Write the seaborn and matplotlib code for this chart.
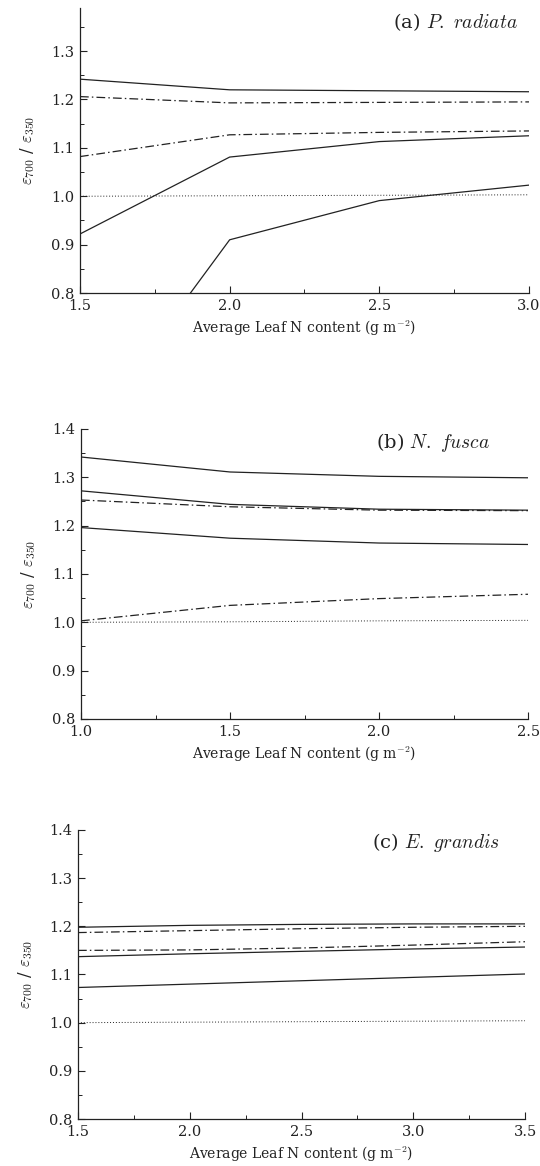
import matplotlib
matplotlib.use("Agg")
import matplotlib.pyplot as plt
import numpy as np
import pandas as pd
import seaborn as sns
from matplotlib.ticker import MultipleLocator

# Panel (a) P. radiata
x_a = [1.5, 2.0, 2.5, 3.0]
a_solid1 = [1.242, 1.220, 1.218, 1.216]
a_dash1 = [1.206, 1.193, 1.194, 1.195]
a_dash2 = [1.082, 1.127, 1.132, 1.135]
a_solid2 = [0.922, 1.081, 1.113, 1.125]
a_solid3 = [0.49, 0.910, 0.991, 1.023]
a_ref = [1.000, 1.001, 1.002, 1.003]

# Panel (b) N. fusca
x_b = [1.0, 1.5, 2.0, 2.5]
b_solid1 = [1.342, 1.311, 1.302, 1.299]
b_solid2 = [1.272, 1.244, 1.234, 1.232]
b_dash1 = [1.253, 1.239, 1.232, 1.231]
b_solid3 = [1.196, 1.174, 1.164, 1.161]
b_dash2 = [1.003, 1.035, 1.049, 1.058]
b_ref = [1.000, 1.001, 1.003, 1.004]

# Panel (c) E. grandis
x_c = [1.5, 2.0, 2.5, 3.0, 3.5]
c_solid1 = [1.198, 1.202, 1.204, 1.205, 1.205]
c_dash1 = [1.187, 1.191, 1.195, 1.198, 1.200]
c_dash2 = [1.150, 1.151, 1.155, 1.161, 1.168]
c_solid2 = [1.137, 1.143, 1.148, 1.153, 1.157]
c_solid3 = [1.073, 1.080, 1.087, 1.094, 1.101]
c_ref = [1.000, 1.001, 1.002, 1.003, 1.004]

SOLID = ""
DASHDOT = (7, 2.5, 1.2, 2.5)
DOTTED = (1, 2)

sns.set_theme(style="ticks")
plt.rcParams["font.family"] = ["DejaVu Serif"]
plt.rcParams["mathtext.fontset"] = "cm"
plt.rcParams["xtick.direction"] = "in"
plt.rcParams["ytick.direction"] = "in"

panels = [
    {
        "rect": [0.1481, 0.7487, 0.8315, 0.2444],
        "x": x_a,
        "series": [(a_solid1, SOLID), (a_dash1, DASHDOT), (a_dash2, DASHDOT),
                   (a_solid2, SOLID), (a_solid3, SOLID), (a_ref, DOTTED)],
        "xlim": (1.5, 3.0), "ylim": (0.8, 1.389),
        "xticks": [1.5, 2.0, 2.5, 3.0],
        "title": ("(a) ", "P. radiata"), "tpos": (0.976, 0.95),
    },
    {
        "rect": [0.150, 0.3834, 0.828, 0.2487],
        "x": x_b,
        "series": [(b_solid1, SOLID), (b_solid2, SOLID), (b_dash1, DASHDOT),
                   (b_solid3, SOLID), (b_dash2, DASHDOT), (b_ref, DOTTED)],
        "xlim": (1.0, 2.5), "ylim": (0.8, 1.4),
        "xticks": [1.0, 1.5, 2.0, 2.5],
        "title": ("(b) ", "N. fusca"), "tpos": (0.915, 0.952),
    },
    {
        "rect": [0.1444, 0.0403, 0.828, 0.2479],
        "x": x_c,
        "series": [(c_solid1, SOLID), (c_dash1, DASHDOT), (c_dash2, DASHDOT),
                   (c_solid2, SOLID), (c_solid3, SOLID), (c_ref, DOTTED)],
        "xlim": (1.5, 3.5), "ylim": (0.8, 1.4),
        "xticks": [1.5, 2.0, 2.5, 3.0, 3.5],
        "title": ("(c) ", "E. grandis"), "tpos": (0.944, 0.955),
    },
]

fig = plt.figure(figsize=(5.4, 11.66), dpi=100)

for p in panels:
    ax = fig.add_axes(p["rect"])
    for vals, dash in p["series"]:
        df = pd.DataFrame({"x": p["x"], "y": vals})
        lw = 0.7 if dash == DOTTED else 0.9
        line_kws = {} if dash == SOLID else {"dashes": dash}
        sns.lineplot(data=df, x="x", y="y", ax=ax, color="#222222",
                     linewidth=lw, **line_kws)
    ax.set_xlim(*p["xlim"])
    ax.set_ylim(*p["ylim"])
    ax.set_xticks(p["xticks"])
    ax.set_xticklabels([f"{v:.1f}" for v in p["xticks"]])
    ax.xaxis.set_minor_locator(MultipleLocator(0.25))
    ax.yaxis.set_major_locator(MultipleLocator(0.1))
    ax.yaxis.set_minor_locator(MultipleLocator(0.05))
    ax.yaxis.set_major_formatter(plt.FormatStrFormatter("%.1f"))
    ax.tick_params(which="major", length=5, width=0.8, labelsize=10.5,
                   colors="#222222", pad=4)
    ax.tick_params(which="minor", length=3, width=0.7, colors="#222222")
    for side in ("top", "right"):
        ax.spines[side].set_visible(False)
    for side in ("left", "bottom"):
        ax.spines[side].set_linewidth(0.9)
        ax.spines[side].set_color("#222222")
    ax.set_xlabel(r"Average Leaf N content (g m$^{-2}$)", fontsize=10,
                  color="#222222", labelpad=4)
    ax.set_ylabel(r"$\varepsilon_{700}$ / $\varepsilon_{350}$", fontsize=12,
                  color="#222222", labelpad=10)
    prefix, name = p["title"]
    ax.text(p["tpos"][0], p["tpos"][1],
            prefix + r"$\mathit{" + name.replace(" ", r"\ ") + "}$",
            transform=ax.transAxes, ha="right", va="center", fontsize=14,
            color="#222222")

fig.savefig("out.png", dpi=100)
